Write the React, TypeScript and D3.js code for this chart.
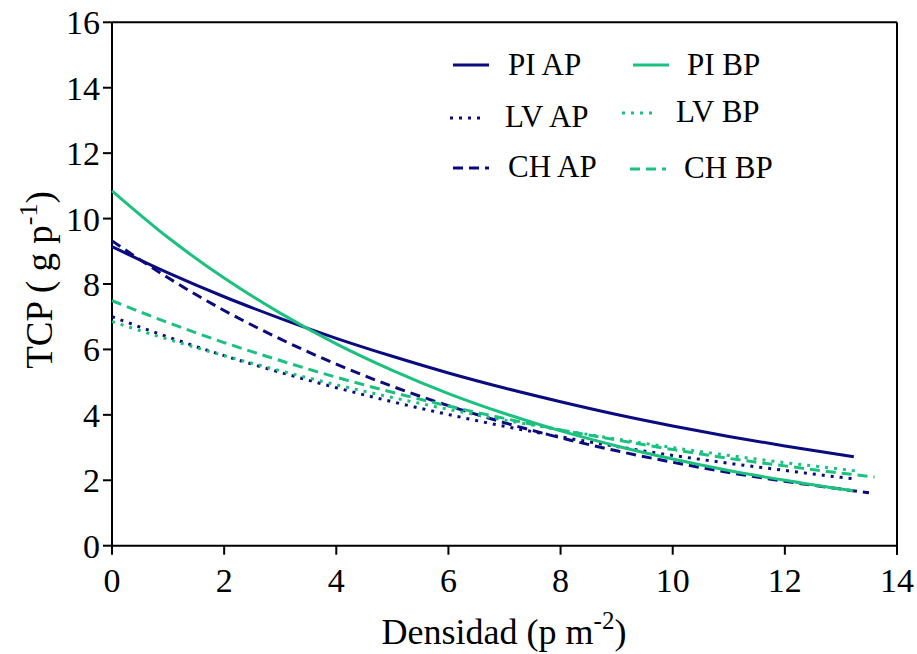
import React from "react";
import * as d3 from "d3";

const W = 917;
const H = 654;

const xTicks = [0, 2, 4, 6, 8, 10, 12, 14];
const yTicks = [0, 2, 4, 6, 8, 10, 12, 14, 16];

const xBase = [0, 1, 2, 3, 4, 5, 6, 7, 8, 9, 10, 11, 12, 13];

const piAP_x = [...xBase, 13.23];
const piAP_y = [9.14, 8.34, 7.61, 6.95, 6.34, 5.79, 5.28, 4.82, 4.4, 4.01, 3.66, 3.34, 3.05, 2.78, 2.72];

const piBP_x = [...xBase, 13.22];
const piBP_y = [10.85, 9.42, 8.18, 7.11, 6.17, 5.36, 4.65, 4.04, 3.51, 3.05, 2.65, 2.3, 2.0, 1.73, 1.68];

const lvAP_x = [...xBase, 13.27];
const lvAP_y = [7.0, 6.38, 5.81, 5.3, 4.83, 4.4, 4.01, 3.65, 3.33, 3.03, 2.76, 2.52, 2.3, 2.09, 2.04];

const lvBP_x = [...xBase, 13.3];
const lvBP_y = [6.85, 6.31, 5.81, 5.35, 4.92, 4.53, 4.17, 3.84, 3.54, 3.26, 3.0, 2.76, 2.54, 2.34, 2.28];

const chAP_x = [...xBase, 13.5];
const chAP_y = [9.32, 8.19, 7.19, 6.32, 5.55, 4.87, 4.28, 3.76, 3.3, 2.9, 2.55, 2.24, 1.97, 1.73, 1.62];

const chBP_x = [...xBase, 13.6];
const chBP_y = [7.49, 6.82, 6.21, 5.66, 5.15, 4.69, 4.27, 3.89, 3.54, 3.23, 2.94, 2.67, 2.44, 2.22, 2.1];

const NAVY = "#0b0b80";
const GREEN = "#1cc07f";
const SOLID = "none";
const DOT = "3,6";
const DASH = "10,6";

const series = [
  { name: "PI AP", xs: piAP_x, ys: piAP_y, color: NAVY, dash: SOLID },
  { name: "LV AP", xs: lvAP_x, ys: lvAP_y, color: NAVY, dash: DOT },
  { name: "CH AP", xs: chAP_x, ys: chAP_y, color: NAVY, dash: DASH },
  { name: "PI BP", xs: piBP_x, ys: piBP_y, color: GREEN, dash: SOLID },
  { name: "LV BP", xs: lvBP_x, ys: lvBP_y, color: GREEN, dash: DOT },
  { name: "CH BP", xs: chBP_x, ys: chBP_y, color: GREEN, dash: DASH },
];

const legendItems = [
  { name: "PI AP", color: NAVY, dash: SOLID, lx: 453, ly: 65, tx: 508, ty: 75 },
  { name: "PI BP", color: GREEN, dash: SOLID, lx: 633, ly: 65, tx: 687, ty: 75 },
  { name: "LV AP", color: NAVY, dash: DOT, lx: 450, ly: 118, tx: 505, ty: 127 },
  { name: "LV BP", color: GREEN, dash: DOT, lx: 622, ly: 113, tx: 676, ty: 122 },
  { name: "CH AP", color: NAVY, dash: DASH, lx: 453, ly: 168, tx: 508, ty: 177 },
  { name: "CH BP", color: GREEN, dash: DASH, lx: 630, ly: 169, tx: 684, ty: 178 },
];

const FONT = "'Liberation Serif', 'Times New Roman', serif";

export default function App() {
  const left = 112, right = 897, top = 22.3, bottom = 545.7;
  const x = d3.scaleLinear().domain([0, 14]).range([left, right]);
  const y = d3.scaleLinear().domain([0, 16]).range([bottom, top]);
  const line = d3
    .line<[number, number]>()
    .x((d) => x(d[0]))
    .y((d) => y(d[1]))
    .curve(d3.curveMonotoneX);

  return (
    <svg
      width={W}
      height={H}
      style={{ position: "absolute", left: 0, top: 0, background: "#fff" }}
      fontFamily={FONT}
    >
      <rect x={0} y={0} width={W} height={H} fill="#fff" />
      {/* frame */}
      <line x1={left} y1={top} x2={right} y2={top} stroke="#000" strokeWidth={2} />
      <line x1={right} y1={top} x2={right} y2={bottom + 9} stroke="#000" strokeWidth={2} />
      <line x1={left} y1={top} x2={left} y2={bottom} stroke="#000" strokeWidth={2} />
      <line x1={left} y1={bottom} x2={right} y2={bottom} stroke="#000" strokeWidth={2} />

      {/* y ticks */}
      {yTicks.map((t) => (
        <g key={"y" + t}>
          <line x1={left - 9} x2={left} y1={y(t)} y2={y(t)} stroke="#000" strokeWidth={2} />
          <text x={100} y={y(t) + 12} textAnchor="end" fontSize={34} fill="#000">
            {t}
          </text>
        </g>
      ))}
      {/* x ticks */}
      {xTicks.map((t) => (
        <g key={"x" + t}>
          <line x1={x(t)} x2={x(t)} y1={bottom} y2={bottom + 9} stroke="#000" strokeWidth={2} />
          <text x={x(t)} y={592} textAnchor="middle" fontSize={34} fill="#000">
            {t}
          </text>
        </g>
      ))}

      {/* axis titles */}
      <text
        transform={`translate(52, 280) rotate(-90)`}
        textAnchor="middle"
        fontSize={37}
        fill="#000"
      >
        TCP ( g p<tspan dy={-15} fontSize={26}>-1</tspan>
        <tspan dy={15}>)</tspan>
      </text>
      <text x={504} y={644} textAnchor="middle" fontSize={36} fill="#000">
        Densidad (p m<tspan dy={-15} fontSize={25}>-2</tspan>
        <tspan dy={15}>)</tspan>
      </text>

      {/* series */}
      {series.map((s) => (
        <path
          key={s.name}
          d={line(s.xs.map((v, i) => [v, s.ys[i]] as [number, number])) || ""}
          fill="none"
          stroke={s.color}
          strokeWidth={3}
          strokeDasharray={s.dash}
        />
      ))}

      {/* legend */}
      {legendItems.map((l) => (
        <g key={"lg" + l.name}>
          <line
            x1={l.lx}
            x2={l.lx + 36}
            y1={l.ly}
            y2={l.ly}
            stroke={l.color}
            strokeWidth={3}
            strokeDasharray={l.dash}
          />
          <text x={l.tx} y={l.ty} fontSize={31} fill="#000">
            {l.name}
          </text>
        </g>
      ))}
    </svg>
  );
}
